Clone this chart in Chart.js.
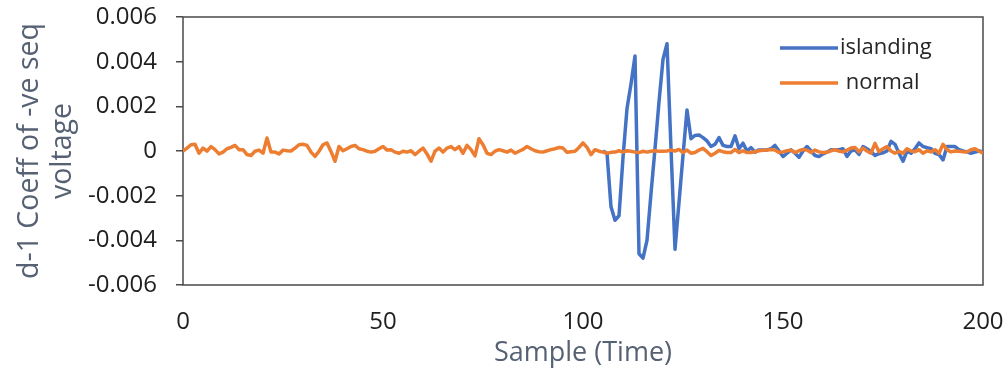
<!DOCTYPE html>
<html>
<head>
<meta charset="utf-8">
<script src="https://cdn.jsdelivr.net/npm/chart.js@4"></script>
<style>
  html, body { margin: 0; padding: 0; background: #ffffff; }
  #wrap { width: 1007px; height: 377px; }
</style>
</head>
<body>
<div id="wrap"><canvas id="c" width="1007" height="377"></canvas></div>
<script>
// ---- data ----
const seriesLabels = ['islanding', ' normal'];
const xTicks = [0, 50, 100, 150, 200];
const yTicks = [-0.006, -0.004, -0.002, 0, 0.002, 0.004, 0.006];

// "normal" series: samples 0..200
const normal = [
  0, 0.00013, 0.00028, 0.00030, -0.0001, 0.00013, -0.00001, 0.0002, 0.00006, -0.00013,
  -0.00005, 0.0001, 0.00016, 0.00025, 0.00006, 0.00006, -0.00016, -0.0002, -0.00001, 0.00004,
  -0.0001, 0.00058, -0.00005, -0.00005, -0.00013, 0.00004, 0.00001, 0, 0.00013, 0.00028,
  0.0003, 0.00025, -0.00005, -0.00024, -0.00001, 0.00028, 0.00036, -0.00002, -0.00046, 0.0002,
  0.00001, 0.0001, 0.0002, 0.00025, 0.0001, 0.00006, -0.00001, -0.00005, -0.00001, 0.0001,
  0.0002, 0.00004, 0.00006, -0.00005, -0.0001, -0.00001, -0.00005, 0.00001, -0.00016, -0.00001,
  0.00013, -0.00013, -0.00046, -0.00001, 0.00013, -0.00005, 0.00013, 0.0002, 0.00006, 0.0002,
  -0.0001, 0.00025, 0.00006, -0.00022, 0.00055, 0.00028, -0.0001, -0.00016, -0.00001, 0.00006,
  0.00001, -0.00005, 0.00004, -0.0001, -0.00001, 0.00007, 0.0002, 0.0001, 0.00001, -0.00003,
  -0.00005, 0.00001, 0.00006, 0.0001, 0.00016, 0.00013, -0.00006, -0.00003, -0.00001, 0.00016,
  0.00036, 0.00016, -0.00016, 0.00006, -0.00001, -0.00005, -0.0001, -0.00006, -0.00005, 0.00001,
  -0.00005, 0.00001, -0.00001, -0.00005, -0.00007, -0.00001, -0.00005, -0.00001, 0.00001, -0.00001,
  -0.00001, 0, 0.00004, 0, 0.00007, -0.00007, 0.00004, -0.0001, -0.00007, 0.00004,
  0.00012, -0.00003, -0.0002, -0.0001, 0.00002, -0.00003, -0.00007, -0.00007, 0.00007, -0.00007,
  0.00001, -0.00007, -0.00007, -0.00003, 0.00001, 0.00003, 0.00004, 0.00007, 0.00004, -0.00007,
  -0.00004, 0.00001, 0.00004, -0.00007, 0.00001, 0.00007, 0.00004, -0.00007, 0.00004, -0.00004,
  -0.00007, -0.00006, 0.00001, 0.00006, -0.00001, -0.00004, 0.00004, 0.00013, 0.00016, -0.00004,
  0.00013, 0, -0.0001, 0.00034, -0.00003, 0.0001, 0.0002, 0, -0.0001, -0.00002,
  -0.0001, 0.0001, 0, -0.00003, 0.00006, -0.0001, 0.00001, -0.00004, 0.00006, -0.0001,
  0.0003, 0.00006, -0.00004, 0, -0.00001, -0.00003, -0.00004, 0.00006, 0.0001, 0,
  -0.0001
];

// "islanding" series: visible from sample 105 to 200 (earlier part hidden under "normal")
const islandingStart = 105;
const islanding = [
  0, -0.0001, -0.0025, -0.0031, -0.0029, -0.0003, 0.0019, 0.0030, 0.00425, -0.0046,
  -0.0048, -0.0040, -0.0019, 0.0001, 0.0022, 0.0041, 0.0048, 0.0001, -0.0044, -0.0023,
  -0.0002, 0.00184, 0.00055, 0.0007, 0.00072, 0.0006, 0.00045, 0.0002, 0.0003, 0.0006,
  0.00025, 0.0002, 0.0002, 0.00068, 0.0001, 0.00035, 0, 0.00015, -0.00005, 0.00005,
  0.00005, 0.00005, 0.0001, 0.00025, 0, -0.00025, -0.0001, 0.00005, -0.0001, -0.00028,
  0, 0.0002, 0, -0.0002, -0.00025, -0.00013, -0.00005, 0.00006, 0.00006, 0.00006,
  0.0001, -0.00024, 0, 0.00005, -0.00015, 0.0002, 0.0001, -0.00002, -0.0002, -0.00012,
  -0.00008, 0, 0.00043, 0.0003, -0.0001, -0.00046, 0, -0.0001, 0.0001, 0.00036,
  0.0002, 0.00015, 0.0001, -0.0001, -0.00016, -0.0004, 0.0002, 0.0002, 0.0002, 0.00006,
  0, -0.00004, -0.0001, -0.00005, 0, -0.00004
];

const colors = { islanding: '#4472C4', normal: '#ED7D31' };

// ---- build library inputs ----
const normalPts = normal.map((v, i) => ({ x: i, y: v }));
const islandPts = islanding.map((v, i) => ({ x: islandingStart + i, y: v }));

const AXIS_COLOR = '#4a4a4a';
const TITLE_COLOR = '#566174';
const TICK_COLOR = '#1f1f1f';
const FONT = "'Open Sans', 'Liberation Sans', sans-serif";

const boxPlugin = {
  id: 'box',
  beforeDatasetsDraw(chart) {
    const { ctx, chartArea: a } = chart;
    ctx.save();
    ctx.strokeStyle = AXIS_COLOR;
    ctx.lineWidth = 1.5;
    ctx.strokeRect(a.left, a.top, a.right - a.left, a.bottom - a.top);
    ctx.restore();
  }
};

const legendPlugin = {
  id: 'insideLegend',
  afterDraw(chart) {
    const { ctx } = chart;
    const rows = [48, 83];
    const x0 = 780, x1 = 838;
    ctx.save();
    chart.data.datasets.forEach((ds, i) => {
      const y = rows[i];
      ctx.strokeStyle = ds.borderColor;
      ctx.lineWidth = 3.5;
      ctx.beginPath();
      ctx.moveTo(x0, y);
      ctx.lineTo(x1, y);
      ctx.stroke();
      ctx.fillStyle = '#262626';
      ctx.font = "22px " + FONT;
      ctx.textBaseline = 'middle';
      ctx.textAlign = 'left';
      ctx.fillText(ds.label, x1 + 2, y);
    });
    ctx.restore();
  }
};

new Chart(document.getElementById('c'), {
  type: 'line',
  data: {
    datasets: [
      {
        label: seriesLabels[0],
        data: islandPts,
        borderColor: colors.islanding,
        backgroundColor: colors.islanding,
        borderWidth: 3.5,
        pointRadius: 0,
        tension: 0,
        borderJoinStyle: 'round',
        order: 1
      },
      {
        label: seriesLabels[1],
        data: normalPts,
        borderColor: colors.normal,
        backgroundColor: colors.normal,
        borderWidth: 3.5,
        pointRadius: 0,
        tension: 0,
        borderJoinStyle: 'round',
        order: 0
      }
    ]
  },
  options: {
    responsive: false,
    animation: false,
    devicePixelRatio: 1,
    layout: { padding: { top: 17, right: 24, left: 0, bottom: 0 } },
    plugins: {
      legend: { display: false },
      tooltip: { enabled: false }
    },
    scales: {
      x: {
        type: 'linear',
        min: xTicks[0],
        max: xTicks[xTicks.length - 1],
        afterBuildTicks: (s) => { s.ticks = xTicks.map(v => ({ value: v })); },
        afterFit: (s) => { s.height = 92; s.paddingLeft = 0; s.paddingRight = 0; },
        grid: { display: false, drawTicks: false, tickLength: 0 },
        border: { display: false },
        ticks: {
          padding: 23,
          color: TICK_COLOR,
          font: { family: FONT, size: 24 },
          maxRotation: 0,
          callback: (v) => String(v)
        },
        title: {
          display: true,
          text: 'Sample (Time)',
          color: TITLE_COLOR,
          font: { family: FONT, size: 27, lineHeight: 1.22 },
          padding: { top: 0, bottom: 7 }
        }
      },
      y: {
        type: 'linear',
        min: yTicks[0],
        max: yTicks[yTicks.length - 1],
        afterBuildTicks: (s) => { s.ticks = yTicks.map(v => ({ value: v })); },
        afterFit: (s) => { s.width = 183; s.paddingTop = 0; s.paddingBottom = 0; },
        grid: {
          display: true,
          drawOnChartArea: false,
          drawTicks: true,
          tickLength: 7,
          color: AXIS_COLOR,
          lineWidth: 1.5
        },
        border: { display: false },
        ticks: {
          padding: 19,
          color: TICK_COLOR,
          font: { family: FONT, size: 24 },
          callback: (v) => (Math.abs(v) < 1e-12 ? '0' : v.toFixed(3))
        },
        title: {
          display: true,
          text: ['d-1 Coeff of -ve seq', 'voltage'],
          color: TITLE_COLOR,
          font: { family: FONT, size: 28.5, lineHeight: 1.16 },
          padding: { top: 13.5, bottom: 0 }
        }
      }
    }
  },
  plugins: [boxPlugin, legendPlugin]
});
</script>
</body>
</html>
